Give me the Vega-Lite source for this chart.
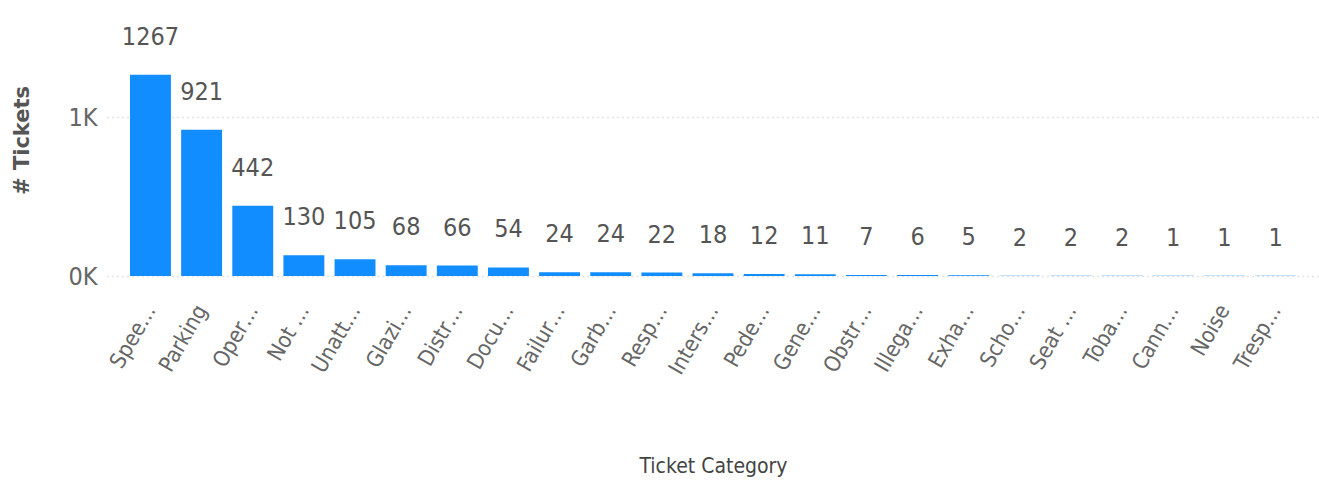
{
  "$schema": "https://vega.github.io/schema/vega-lite/v6.json",
  "autosize": "none",
  "width": 1212,
  "height": 254,
  "padding": {"left": 107, "top": 22, "right": 0, "bottom": 210},
  "background": "white",
  "data": {
    "values": [
      {"category": "Spee…", "tickets": 1267},
      {"category": "Parking", "tickets": 921},
      {"category": "Oper…", "tickets": 442},
      {"category": "Not …", "tickets": 130},
      {"category": "Unatt…", "tickets": 105},
      {"category": "Glazi…", "tickets": 68},
      {"category": "Distr…", "tickets": 66},
      {"category": "Docu…", "tickets": 54},
      {"category": "Failur…", "tickets": 24},
      {"category": "Garb…", "tickets": 24},
      {"category": "Resp…", "tickets": 22},
      {"category": "Inters…", "tickets": 18},
      {"category": "Pede…", "tickets": 12},
      {"category": "Gene…", "tickets": 11},
      {"category": "Obstr…", "tickets": 7},
      {"category": "Illega…", "tickets": 6},
      {"category": "Exha…", "tickets": 5},
      {"category": "Scho…", "tickets": 2},
      {"category": "Seat …", "tickets": 2},
      {"category": "Toba…", "tickets": 2},
      {"category": "Cann…", "tickets": 1},
      {"category": "Noise", "tickets": 1},
      {"category": "Tresp…", "tickets": 1}
    ]
  },
  "encoding": {
    "x": {
      "field": "category",
      "type": "nominal",
      "sort": null,
      "scale": {"paddingInner": 0.2, "paddingOuter": 0.45},
      "axis": {
        "title": "Ticket Category",
        "titleFont": "DejaVu Sans Condensed, DejaVu Sans, sans-serif",
        "titleFontSize": 21,
        "titleFontWeight": "normal",
        "titleColor": "#444444",
        "titleY": 190,
        "titleBaseline": "middle",
        "labelAngle": -60,
        "labelFont": "DejaVu Sans Condensed, DejaVu Sans, sans-serif",
        "labelFontSize": 22,
        "labelColor": "#666666",
        "labelPadding": 30,
        "labelLimit": 200,
        "domain": false,
        "ticks": false
      }
    },
    "y": {
      "field": "tickets",
      "type": "quantitative",
      "scale": {"domain": [0, 1600], "nice": false},
      "axis": {
        "title": "# Tickets",
        "titleFont": "DejaVu Sans, sans-serif",
        "titleFontSize": 21,
        "titleFontWeight": "bold",
        "titleColor": "#555555",
        "titleX": -85,
        "titleY": 118,
        "titleAngle": -90,
        "titleAlign": "center",
        "titleBaseline": "middle",
        "values": [0, 1000],
        "labelExpr": "datum.value / 1000 + 'K'",
        "labelFont": "DejaVu Sans Condensed, DejaVu Sans, sans-serif",
        "labelFontSize": 25,
        "labelColor": "#666666",
        "labelPadding": 10,
        "domain": false,
        "ticks": false,
        "grid": true,
        "gridColor": "#c8c8c8",
        "gridDash": [1, 4],
        "gridWidth": 1.5
      }
    }
  },
  "layer": [
    {"mark": {"type": "bar", "color": "#118DFF"}},
    {
      "mark": {
        "type": "text",
        "dy": -30,
        "baseline": "alphabetic",
        "font": "DejaVu Sans Condensed, DejaVu Sans, sans-serif",
        "fontSize": 25,
        "color": "#555555"
      },
      "encoding": {"text": {"field": "tickets", "type": "quantitative"}}
    }
  ],
  "config": {"view": {"stroke": null}}
}
